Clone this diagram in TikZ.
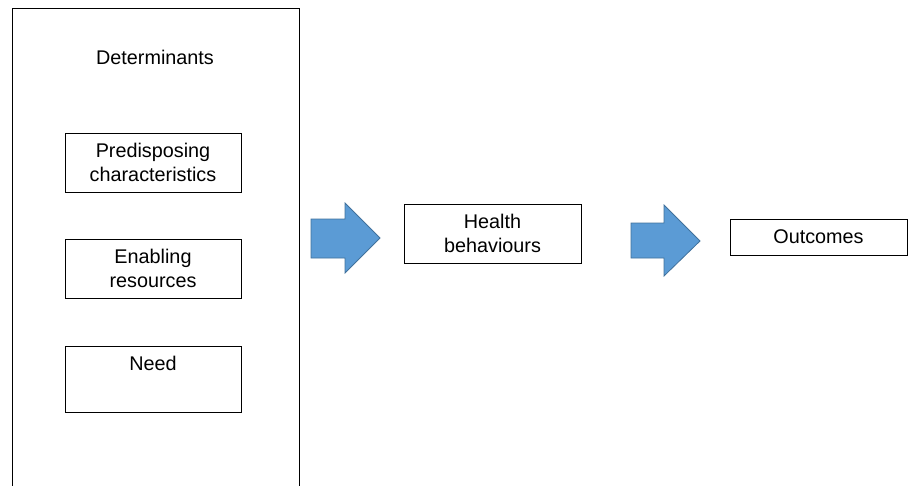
\documentclass[tikz,border=0pt]{standalone}
\usepackage{fontspec}
\setmainfont{Liberation Sans}
\definecolor{arrowfill}{HTML}{5B9BD5}
\definecolor{arrowline}{HTML}{41719C}
\begin{document}
\begin{tikzpicture}[x=1pt,y=-1pt,
  box/.style={draw=black,line width=0.9pt,inner sep=0pt,align=center,font=\fontsize{19.8}{23.5}\selectfont},
  lbl/.style={inner sep=0pt,align=center,font=\fontsize{19.8}{23.5}\selectfont},
  blockarrow/.style={fill=arrowfill,draw=arrowline,line width=0.8pt,line join=miter}]
\useasboundingbox (0,0) rectangle (911,485);
\node[box,minimum width=287pt,minimum height=492pt,anchor=north west] (det) at (12,8) {};
\node[lbl] (dettxt) at (155,57) {Determinants};
\node[box,minimum width=176pt,minimum height=59pt] (pre) at (153,162.5) {Predisposing\\characteristics};
\node[box,minimum width=176pt,minimum height=59pt] (ena) at (153,268.5) {Enabling\\resources};
\node[box,minimum width=176pt,minimum height=66pt] (need) at (153,379) {};
\node[lbl,anchor=north] (needtxt) at (153,356) {Need};
\node[box,minimum width=177pt,minimum height=59pt] (hb) at (492.5,233.5) {Health\\behaviours};
\node[box,minimum width=177pt,minimum height=36pt] (out) at (818.5,237) {Outcomes};
\draw[blockarrow] (311,219) -- (345,219) -- (345,203) -- (380,238) -- (345,273) -- (345,258) -- (311,258) -- cycle;
\draw[blockarrow] (631,223) -- (664,223) -- (664,205) -- (700,241) -- (664,276) -- (664,258) -- (631,258) -- cycle;
\end{tikzpicture}
\end{document}
